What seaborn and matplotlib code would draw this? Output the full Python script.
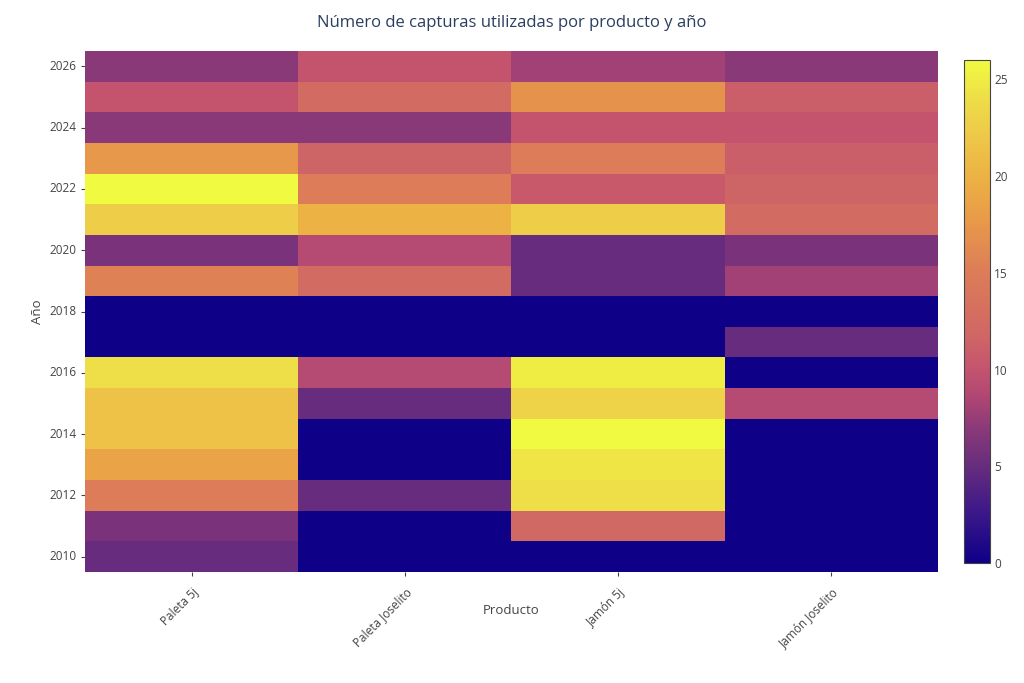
import numpy as np
import pandas as pd
import matplotlib
matplotlib.use("Agg")
import matplotlib.pyplot as plt
from matplotlib.colors import LinearSegmentedColormap
import seaborn as sns

# Data, rows from 2026 down to 2010
years = list(range(2026, 2009, -1))
products = ['Paleta 5j', 'Paleta Joselito', 'Jamón 5j', 'Jamón Joselito']

paleta_5j =       [7, 10, 7, 17.5, 26, 22.5, 6, 15.5, 0, 0, 24, 21.5, 21.5, 18.5, 15, 6, 5]
paleta_joselito = [10, 12.5, 7, 11.5, 15, 20, 9, 12.5, 0, 0, 9, 5, 0, 0, 5, 0, 0]
jamon_5j =        [8, 17, 10, 15, 10.5, 22.5, 5, 5, 0, 0, 25, 23, 26, 24.5, 24, 12, 0]
jamon_joselito =  [7, 11, 10, 11, 11.5, 12.5, 6, 8, 0, 5, 0, 9, 0, 0, 0, 0, 0]

# muted plasma-like scale as seen on the reference colour bar
scale_pos = [0, 0.1, 0.19, 0.27, 0.33, 0.385, 0.46, 0.577, 0.69, 0.77, 0.85, 0.92, 1.0]
scale_col = ['#0f0088', '#3c1888', '#662c7e', '#8c3a78', '#b04674', '#c4546e',
             '#d06864', '#dc7c58', '#e99c48', '#ecb244', '#eec848', '#eedc48', '#f0fa40']

TEXT = '#444444'
TITLE = '#2a3f5f'

sns.set_style('white')
plt.rcParams['font.family'] = ['Open Sans', 'DejaVu Sans']

df = pd.DataFrame({
    'Paleta 5j': paleta_5j,
    'Paleta Joselito': paleta_joselito,
    'Jamón 5j': jamon_5j,
    'Jamón Joselito': jamon_joselito,
}, index=years)[products]

cmap = LinearSegmentedColormap.from_list('muted_plasma', list(zip(scale_pos, scale_col)))

fig = plt.figure(figsize=(10.24, 6.83), dpi=100)
ax = fig.add_axes([0.083, 0.1625, 0.833, 0.7628])
cax = fig.add_axes([0.9414, 0.1757, 0.0254, 0.7364])

sns.heatmap(df, ax=ax, cbar_ax=cax, cmap=cmap, vmin=0, vmax=26,
            xticklabels=True, yticklabels=True, linewidths=0)

# y ticks only on even years
ytick_pos = [i + 0.5 for i, y in enumerate(years) if y % 2 == 0]
ytick_lab = [str(y) for y in years if y % 2 == 0]
ax.set_yticks(ytick_pos)
ax.set_yticklabels(ytick_lab, rotation=0, fontsize=8.5, color=TEXT)

ax.set_xticks([i + 0.5 for i in range(len(products))])
ax.set_xticklabels(products, rotation=45, ha='right', rotation_mode='anchor',
                   fontsize=8.5, color=TEXT)
ax.tick_params(axis='both', left=True, bottom=True, length=3, width=0.8,
               color=TEXT, pad=3)
ax.tick_params(axis='x', pad=7)

ax.set_xlabel('Producto', fontsize=9.5, color=TEXT)
ax.xaxis.set_label_coords(0.5, -0.061)
ax.set_ylabel('Año', fontsize=9.5, color=TEXT)
ax.yaxis.set_label_coords(-0.048, 0.5)

fig.suptitle('Número de capturas utilizadas por producto y año',
             fontsize=12, color=TITLE, x=0.5, y=0.978)

# colorbar styling
cbar = ax.collections[0].colorbar
cbar.set_ticks([0, 5, 10, 15, 20, 25])
cbar.ax.tick_params(length=0, labelsize=8.5, labelcolor=TEXT, pad=3)
cbar.outline.set_visible(True)
cbar.outline.set_edgecolor('#444444')
cbar.outline.set_linewidth(0.8)

fig.savefig('out.png', dpi=100)
